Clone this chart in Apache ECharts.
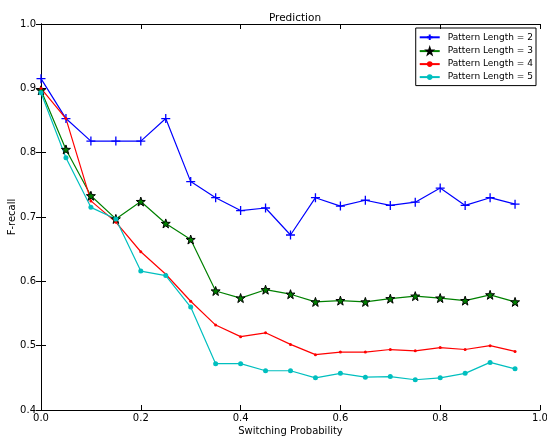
<!DOCTYPE html>
<html>
<head>
<meta charset="utf-8">
<script src="https://cdn.jsdelivr.net/npm/echarts@6/dist/echarts.min.js"></script>
<style>
  html, body { margin: 0; padding: 0; background: #fff; }
  #chart { width: 547px; height: 436px; }
</style>
</head>
<body>
<div id="chart"></div>
<script>
// switching probability (x) and F-recall per pattern length
const probs = [0, 0.05, 0.1, 0.15, 0.2, 0.25, 0.3, 0.35, 0.4, 0.45, 0.5, 0.55, 0.6, 0.65, 0.7, 0.75, 0.8, 0.85, 0.9, 0.95]
const len2 = [0.915, 0.853, 0.818, 0.818, 0.818, 0.853, 0.755, 0.730, 0.710, 0.714, 0.672, 0.730, 0.717, 0.726, 0.718, 0.723, 0.745, 0.718, 0.730, 0.720]
const len3 = [0.897, 0.805, 0.733, 0.697, 0.724, 0.690, 0.665, 0.585, 0.574, 0.587, 0.580, 0.568, 0.570, 0.568, 0.573, 0.577, 0.574, 0.570, 0.579, 0.568]
const len4 = [0.900, 0.853, 0.725, 0.692, 0.646, 0.611, 0.569, 0.532, 0.514, 0.520, 0.502, 0.486, 0.490, 0.490, 0.494, 0.492, 0.497, 0.494, 0.500, 0.491]
const len5 = [0.893, 0.792, 0.715, 0.697, 0.616, 0.609, 0.560, 0.472, 0.472, 0.461, 0.461, 0.450, 0.457, 0.451, 0.452, 0.447, 0.450, 0.457, 0.474, 0.464]
const seriesNames = ['Pattern Length = 2', 'Pattern Length = 3', 'Pattern Length = 4', 'Pattern Length = 5']

const font = 'DejaVu Sans'
const pts = arr => probs.map((p, i) => [p, arr[i]])

const plusPath = 'path://M0,-10 L0,10 M-10,0 L10,0'
const starPath = 'path://M0,-10 L2.35,-3.24 L9.51,-3.09 L3.8,1.24 L5.88,8.09 L0,4 L-5.88,8.09 L-3.8,1.24 L-9.51,-3.09 L-2.35,-3.24 Z'

const chart = echarts.init(document.getElementById('chart'), null, { renderer: 'canvas' })

const plainAxis = {
    axisLine: { show: true, lineStyle: { color: '#000', width: 1 } },
    axisTick: { show: true, inside: true, length: 5, lineStyle: { color: '#000' } },
    splitLine: { show: false }
}

chart.setOption({
    animation: false,
    backgroundColor: '#fff',
    textStyle: { fontFamily: font },
    title: {
        text: 'Prediction',
        left: 290,
        textAlign: 'center',
        top: 8,
        textStyle: { fontSize: 10.5, fontWeight: 'normal', color: '#000', fontFamily: font }
    },
    legend: {
        data: seriesNames,
        orient: 'vertical',
        right: 11,
        top: 28,
        padding: [4, 3, 4, 3],
        itemGap: 4,
        itemWidth: 20,
        itemHeight: 7,
        borderColor: '#000',
        borderWidth: 1,
        borderRadius: 0,
        textStyle: { fontSize: 9, color: '#000', fontFamily: font, padding: [0, 0, 0, 3] }
    },
    grid: { left: 41, right: 7, top: 24, bottom: 26, outerBoundsMode: 'none' },
    xAxis: [
        Object.assign({
            type: 'value', min: 0, max: 1, interval: 0.2,
            name: 'Switching Probability', nameLocation: 'middle', nameGap: 16, nameMoveOverlap: false,
            nameTextStyle: { fontSize: 10, color: '#000', fontFamily: font },
            axisLabel: { fontSize: 10, color: '#000', margin: 3, formatter: v => v.toFixed(1) }
        }, plainAxis),
        Object.assign({
            type: 'value', min: 0, max: 1, interval: 0.2, position: 'top',
            axisLabel: { show: false }
        }, plainAxis)
    ],
    yAxis: [
        Object.assign({
            type: 'value', min: 0.4, max: 1.0, interval: 0.1,
            name: 'F-recall', nameLocation: 'middle', nameGap: 24, nameMoveOverlap: false,
            nameTextStyle: { fontSize: 10, color: '#000', fontFamily: font },
            axisLabel: { fontSize: 10, color: '#000', margin: 5, formatter: v => v.toFixed(1) }
        }, plainAxis),
        Object.assign({
            type: 'value', min: 0.4, max: 1.0, interval: 0.1, position: 'right',
            axisLabel: { show: false }
        }, plainAxis)
    ],
    series: [
        {
            name: seriesNames[0], type: 'line', data: pts(len2),
            symbol: plusPath, symbolSize: 9,
            lineStyle: { color: '#0000ff', width: 1.2 },
            itemStyle: { color: 'none', borderColor: '#0000ff', borderWidth: 1.3 }
        },
        {
            name: seriesNames[1], type: 'line', data: pts(len3),
            symbol: starPath, symbolSize: 9,
            lineStyle: { color: '#008000', width: 1.2 },
            itemStyle: { color: '#008000', borderColor: '#000', borderWidth: 1 }
        },
        {
            name: seriesNames[2], type: 'line', data: pts(len4),
            symbol: 'circle', symbolSize: 3,
            lineStyle: { color: '#ff0000', width: 1.2 },
            itemStyle: { color: '#ff0000', borderWidth: 0 }
        },
        {
            name: seriesNames[3], type: 'line', data: pts(len5),
            symbol: 'circle', symbolSize: 5,
            lineStyle: { color: '#00bfbf', width: 1.2 },
            itemStyle: { color: '#00bfbf', borderWidth: 0 }
        }
    ]
})

window.addEventListener('resize', function () {
    chart.resize()
})
</script>
</body>
</html>
